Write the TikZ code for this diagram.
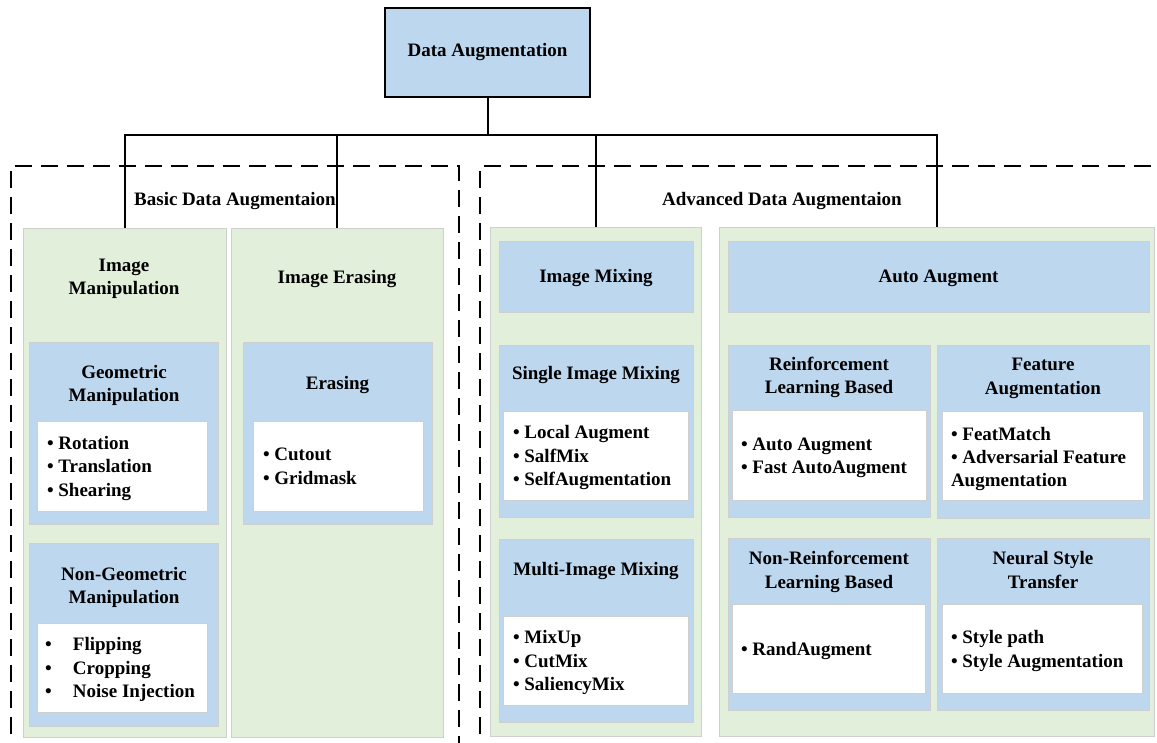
\documentclass[tikz,border=0pt]{standalone}
\usepackage{fontspec}
\setmainfont{Liberation Serif}
\definecolor{bluefill}{HTML}{BDD7EE}
\definecolor{greenfill}{HTML}{E2EFDA}
\definecolor{edgegray}{HTML}{CFCFCF}
\newcommand\mkbox[6]{\node[#1,anchor=north west,minimum width={(#4-#2)*1pt},minimum height={(#5-#3)*1pt}] (#6) at (#2,#3) {};}
\newcommand\ttl[3]{\node[txt,anchor=base] at (#1,#2) {#3};}
\newcommand\li[3]{\node[txt,anchor=base west] at (#1,#2) {#3};}
\tikzset{
  panel/.style={draw=edgegray,fill=greenfill,line width=1pt,inner sep=0pt,outer sep=0pt},
  bluebox/.style={draw=edgegray,fill=bluefill,line width=1pt,inner sep=0pt,outer sep=0pt},
  whitebox/.style={draw=edgegray,fill=white,line width=1pt,inner sep=0pt,outer sep=0pt},
  topbox/.style={draw=black,fill=bluefill,line width=2.5pt,inner sep=0pt,outer sep=0pt},
  txt/.style={inner sep=0pt,outer sep=0pt,font=\fontsize{19}{23.5}\selectfont\bfseries},
  conn/.style={draw=black,line width=2pt},
  dashframe/.style={draw=black,line width=2pt,dash pattern=on 17pt off 9pt},
}
\begin{document}
\begin{tikzpicture}[x=1pt,y=-1pt]
\useasboundingbox (0,0) rectangle (1157,742);
% top box
\node[topbox,anchor=north west,minimum width=205pt,minimum height=89pt,font=\fontsize{19}{23.5}\selectfont\bfseries] (top) at (385,8) {Data Augmentation};
% dashed frames
\draw[dashframe] (11,760) -- (11,166) -- (459,166) -- (459,760);
\draw[dashframe] (480,760) -- (480,166) -- (1175,166);
\node[txt,anchor=base] (basic) at (235,205) {Basic Data Augmentaion};
\node[txt,anchor=base] (adv) at (782,205) {Advanced Data Augmentaion};
% panels
\mkbox{panel}{23}{228}{226}{737}{p1}
\mkbox{panel}{231}{228}{443}{737}{p2}
\mkbox{panel}{490}{227}{701}{736}{p3}
\mkbox{panel}{719}{227}{1154}{736}{p4}
% connectors
\coordinate (hub) at (top.south |- 0,135);
\draw[conn] (top.south) -- (hub);
\draw[conn] (p1.north) -- (p1.north |- hub) -- (p4.north |- hub) -- (p4.north);
\draw[conn] (p2.north) -- (p2.north |- hub);
\draw[conn] (p3.north) -- (p3.north |- hub);
% panel 1
\ttl{124}{271}{Image}
\ttl{124}{294}{Manipulation}
\mkbox{bluebox}{29}{342}{218}{524}{geo}
\ttl{124}{378}{Geometric}
\ttl{124}{401}{Manipulation}
\mkbox{whitebox}{37}{421}{207}{511}{geol}
\li{47}{449}{\textbullet\ Rotation}
\li{47}{472}{\textbullet\ Translation}
\li{47}{496}{\textbullet\ Shearing}
\mkbox{bluebox}{29}{543}{218}{726}{ngeo}
\ttl{124}{580}{Non-Geometric}
\ttl{124}{603}{Manipulation}
\mkbox{whitebox}{37}{623}{207}{712}{ngeol}
\li{45}{650}{\makebox[28pt][l]{\textbullet}Flipping}
\li{45}{674}{\makebox[28pt][l]{\textbullet}Cropping}
\li{45}{697}{\makebox[28pt][l]{\textbullet}Noise Injection}
% panel 2
\ttl{337}{283}{Image Erasing}
\mkbox{bluebox}{243}{342}{432}{524}{era}
\ttl{337.5}{389}{Erasing}
\mkbox{whitebox}{253}{421}{423}{511}{eral}
\li{263}{460}{\textbullet\ Cutout}
\li{263}{484}{\textbullet\ Gridmask}
% panel 3
\mkbox{bluebox}{499}{241}{693}{312}{mix}
\ttl{596}{282}{Image Mixing}
\mkbox{bluebox}{499}{345}{693}{517}{single}
\ttl{596}{379}{Single Image Mixing}
\mkbox{whitebox}{503}{411}{688}{500}{singlel}
\li{513}{438}{\textbullet\ Local Augment}
\li{513}{462}{\textbullet\ SalfMix}
\li{513}{485}{\textbullet\ SelfAugmentation}
\mkbox{bluebox}{499}{539}{693}{722}{multi}
\ttl{596}{575}{Multi-Image Mixing}
\mkbox{whitebox}{503}{616}{688}{705}{multil}
\li{513}{643}{\textbullet\ MixUp}
\li{513}{667}{\textbullet\ CutMix}
\li{513}{690}{\textbullet\ SaliencyMix}
% panel 4
\mkbox{bluebox}{728}{241}{1149}{312}{auto}
\ttl{938.5}{282}{Auto Augment}
\mkbox{bluebox}{728}{345}{930}{517}{rl}
\ttl{829}{370}{Reinforcement}
\ttl{829}{393}{Learning Based}
\mkbox{whitebox}{732}{410}{926}{500}{rll}
\li{741}{450}{\textbullet\ Auto Augment}
\li{741}{473}{\textbullet\ Fast AutoAugment}
\mkbox{bluebox}{937}{345}{1149}{518}{feat}
\ttl{1043}{370}{Feature}
\ttl{1043}{394}{Augmentation}
\mkbox{whitebox}{942}{411}{1143}{500}{featl}
\li{951}{440}{\textbullet\ FeatMatch}
\li{951}{463}{\textbullet\ Adversarial Feature}
\li{951}{486}{Augmentation}
\mkbox{bluebox}{728}{538}{930}{710}{nrl}
\ttl{829}{564}{Non-Reinforcement}
\ttl{829}{588}{Learning Based}
\mkbox{whitebox}{732}{604}{925}{693}{nrll}
\li{741}{655}{\textbullet\ RandAugment}
\mkbox{bluebox}{937}{538}{1149}{710}{nst}
\ttl{1043}{564}{Neural Style}
\ttl{1043}{588}{Transfer}
\mkbox{whitebox}{942}{604}{1142}{693}{nstl}
\li{951}{643}{\textbullet\ Style path}
\li{951}{667}{\textbullet\ Style Augmentation}
\end{tikzpicture}
\end{document}
